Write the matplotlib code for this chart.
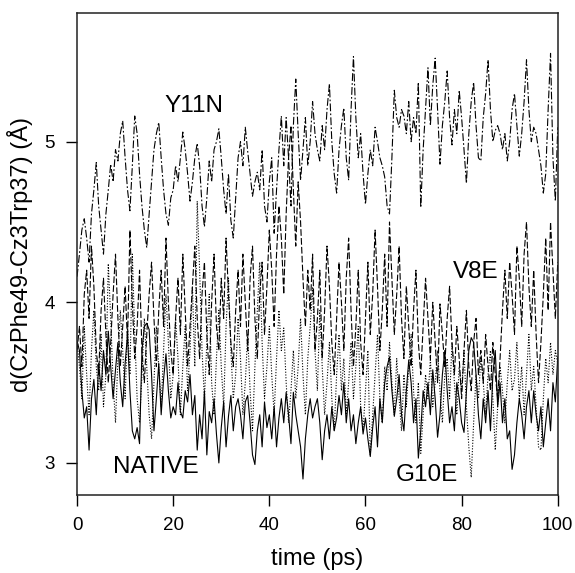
import numpy as np
import matplotlib
matplotlib.use('Agg')
import matplotlib.pyplot as plt

plt.rcParams['font.family'] = ['Liberation Sans', 'DejaVu Sans']

#%% DATA (0.5 ps sampling)
time = np.arange(0, 100.5, 0.5)

native = [3.76, 3.70, 3.45, 3.28, 3.35, 3.08, 3.40, 3.52, 3.30, 3.62,
          3.45, 3.70, 3.55, 3.82, 3.60, 3.40, 3.58, 3.75, 3.50, 3.35,
          3.62, 3.80, 3.45, 3.20, 3.15, 3.22, 3.12, 3.70, 3.85, 3.87,
          3.83, 3.55, 3.20, 3.40, 3.62, 3.30, 3.52, 3.68, 3.45, 3.28,
          3.35, 3.30, 3.50, 3.32, 3.28, 3.45, 3.38, 3.55, 3.30, 3.42,
          3.08, 3.30, 3.15, 3.45, 3.05, 3.32, 3.25, 3.40, 3.18, 3.00,
          3.22, 3.38, 3.10, 3.29, 3.42, 3.20, 3.35, 3.40, 3.30, 3.15,
          3.38, 3.42, 3.25, 3.05, 2.99, 3.20, 3.30, 3.10, 3.38, 3.22,
          3.30, 3.15, 3.35, 3.10, 3.28, 3.40, 3.25, 3.44, 3.30, 3.12,
          3.44, 3.30, 3.20, 3.10, 2.90, 3.15, 3.30, 3.40, 3.28, 3.35,
          3.40, 3.25, 3.02, 3.20, 3.30, 3.15, 3.35, 3.20, 3.28, 3.42,
          3.30, 3.50, 3.25, 3.40, 3.20, 3.30, 3.12, 3.25, 3.35, 3.18,
          3.28, 3.15, 3.04, 3.22, 3.35, 3.10, 3.40, 3.25, 3.50, 3.60,
          3.66, 3.45, 3.29, 3.40, 3.55, 3.30, 3.20, 3.45, 3.64, 3.50,
          3.25, 3.40, 3.03, 3.20, 3.45, 3.35, 3.50, 3.30, 3.58, 3.40,
          3.16, 3.30, 3.55, 3.70, 3.45, 3.25, 3.35, 3.20, 3.50, 3.40,
          3.25, 3.19, 3.45, 3.70, 3.78, 3.75, 3.55, 3.30, 3.15, 3.40,
          3.25, 3.45, 3.20, 3.55, 3.70, 3.35, 3.50, 3.25, 3.40, 3.15,
          3.20, 2.96, 3.05, 3.25, 3.40, 3.30, 3.15, 3.35, 3.45, 3.25,
          3.45, 3.30, 3.20, 3.35, 3.10, 3.25, 3.40, 3.20, 3.50, 3.38,
          3.66]

g10e = [3.75, 3.60, 3.40, 3.85, 3.55, 3.30, 3.70, 3.95, 3.60, 3.45,
        3.80, 3.35, 3.55, 4.24, 3.90, 3.50, 3.25, 3.65, 3.95, 3.70,
        3.40, 3.85, 3.55, 4.30, 3.80, 3.40, 3.25, 3.55, 3.90, 3.60,
        3.30, 3.15, 3.50, 3.85, 3.60, 3.35, 3.70, 4.05, 3.75, 3.40,
        3.55, 3.90, 3.65, 3.30, 3.60, 3.85, 3.45, 3.70, 4.10, 3.60,
        4.63, 4.20, 3.70, 3.40, 3.75, 4.05, 3.50, 3.30, 3.65, 3.95,
        3.60, 3.35, 3.85, 4.15, 3.70, 3.40, 3.55, 3.90, 3.65, 3.30,
        3.50, 3.80, 3.45, 3.20, 3.60, 3.95, 4.25, 3.75, 3.40, 3.60,
        3.85, 3.55, 3.30, 3.65, 3.95, 3.70, 3.84, 3.50, 3.25, 3.45,
        3.70, 3.40, 3.60, 3.90, 3.55, 3.30, 3.65, 3.85, 4.09, 3.70,
        3.45, 3.95, 3.60, 3.30, 3.50, 3.75, 3.40, 3.20, 3.55, 3.80,
        3.45, 3.65, 3.30, 3.50, 3.75, 3.40, 3.60, 3.85, 3.35, 3.20,
        3.45, 3.70, 3.05, 3.30, 3.55, 3.80, 3.40, 3.25, 3.60, 3.45,
        3.75, 3.50, 3.30, 3.65, 3.40, 3.20, 3.55, 3.35, 3.60, 3.80,
        3.45, 3.25, 3.50, 3.06, 3.30, 3.55, 3.40, 3.65, 3.35, 3.50,
        3.70, 3.45, 3.25, 3.55, 3.65, 3.40, 3.75, 3.50, 3.30, 3.60,
        3.45, 3.70, 3.35, 3.10, 2.91, 3.25, 3.55, 3.40, 3.65, 3.50,
        3.30, 3.55, 3.70, 3.40, 3.08, 3.35, 3.60, 3.45, 3.25, 3.50,
        3.70, 3.45, 3.52, 3.75, 3.40, 3.60, 3.30, 3.55, 3.80, 3.45,
        3.60, 3.35, 3.10, 3.08, 3.40, 3.65, 3.50, 3.75, 3.55, 3.70,
        3.62]

v8e = [3.70, 3.85, 3.60, 4.05, 4.20, 3.90, 4.35, 4.10, 3.70, 3.55,
       3.95, 4.15, 3.80, 3.50, 3.75, 4.05, 4.30, 3.90, 3.60, 3.85,
       4.10, 3.75, 4.45, 4.00, 3.65, 3.85, 4.20, 3.70, 3.50, 3.80,
       4.05, 4.25, 3.90, 3.60, 3.95, 4.20, 3.85, 4.40, 4.00, 3.70,
       3.55, 3.90, 4.15, 3.80, 4.30, 3.95, 3.60, 3.85, 4.10, 4.35,
       3.90, 3.65, 4.05, 4.25, 3.80, 3.55, 4.00, 4.30, 3.85, 3.70,
       4.15, 3.90, 4.40, 4.05, 3.75, 3.60, 3.95, 4.20, 3.85, 4.30,
       4.00, 3.70, 4.15, 4.35, 3.90, 3.65, 4.05, 4.25, 3.80, 4.10,
       4.45, 4.20, 3.85, 4.30, 4.60, 4.40, 4.05, 4.55, 4.90, 5.10,
       4.70, 4.35, 4.75, 4.50, 4.15, 3.85, 4.20, 3.95, 4.30, 3.70,
       3.90, 4.20, 3.65, 3.95, 4.35, 4.10, 3.75, 3.55, 3.90, 4.25,
       4.00, 3.70, 4.15, 4.40, 3.95, 3.60, 3.85, 4.20, 3.75, 3.55,
       3.90, 4.25, 3.80, 4.05, 4.45, 4.10, 3.70, 3.95, 4.30, 3.85,
       4.50, 4.15, 3.80, 4.05, 4.35, 3.90, 3.65, 4.10, 3.85, 3.60,
       3.95, 4.20, 3.75, 3.55, 3.85, 4.15, 3.90, 3.65, 4.00, 3.75,
       3.50, 3.99, 3.80, 3.60, 3.90, 4.10, 3.75, 3.55, 3.85, 3.65,
       3.40, 3.70, 3.95, 3.60, 3.45, 3.75, 3.90, 3.55, 3.70, 3.50,
       3.80, 3.60, 3.45, 3.75, 3.55, 3.40, 3.65, 3.95, 4.20, 3.90,
       4.25, 4.05, 3.80, 4.35, 4.15, 3.85, 4.30, 4.50, 4.10, 3.85,
       4.20, 3.80, 3.50, 3.75, 4.05, 4.40, 3.95, 4.50, 4.20, 3.90,
       4.25]

y11n = [4.16, 4.30, 4.45, 4.52, 4.40, 4.25, 4.55, 4.70, 4.87, 4.60,
        4.45, 4.30, 4.55, 4.70, 4.86, 4.75, 4.95, 4.88, 5.05, 5.13,
        4.90, 4.70, 4.57, 4.85, 5.16, 5.05, 4.80, 4.60, 4.45, 4.34,
        4.55, 4.75, 4.95, 5.05, 5.12, 4.90, 4.70, 4.55, 4.48, 4.65,
        4.70, 4.85, 4.75, 4.90, 5.06, 4.95, 4.80, 4.63, 4.75, 4.90,
        4.99, 4.85, 4.60, 4.47, 4.65, 4.88, 4.75, 4.95, 5.00, 5.08,
        4.90, 4.70, 4.55, 4.80, 4.51, 4.40, 4.65, 4.90, 5.00, 4.85,
        5.09, 4.94, 4.80, 4.66, 4.75, 4.81, 4.70, 4.95, 4.60, 4.50,
        4.75, 4.90, 4.43, 4.70, 4.95, 5.16, 4.85, 5.15, 4.90, 4.60,
        5.10, 5.39, 5.05, 4.76, 4.95, 5.15, 4.85, 5.00, 5.25, 5.05,
        4.95, 4.88, 5.10, 4.95, 5.20, 5.36, 5.00, 4.80, 4.68, 4.95,
        5.10, 5.21, 4.90, 4.76, 5.20, 5.53, 5.15, 4.90, 5.05, 4.80,
        4.61, 4.80, 4.95, 4.85, 5.09, 5.00, 4.90, 4.85, 4.78, 4.60,
        4.55, 4.90, 5.32, 5.15, 5.09, 5.20, 5.16, 5.05, 5.25, 5.00,
        5.15, 5.05, 5.37, 4.59, 4.95, 5.20, 5.46, 5.10, 5.35, 5.52,
        5.20, 4.86, 5.10, 5.25, 5.44, 5.15, 4.98, 5.20, 5.05, 5.32,
        5.15, 4.95, 4.74, 5.05, 5.25, 5.37, 5.10, 4.90, 4.88, 5.15,
        5.30, 5.51, 5.20, 5.00, 5.07, 5.10, 5.05, 4.95, 5.05, 4.88,
        5.00, 5.20, 5.30, 5.10, 4.91, 5.05, 5.25, 5.51, 5.20, 5.00,
        5.09, 5.05, 4.95, 4.85, 4.68, 4.80, 5.20, 5.55, 4.90, 4.63,
        5.09]

labels = ['NATIVE', 'G10E', 'V8E', 'Y11N']
label_pos = [(16.3, 2.975), (72.8, 2.925), (83.0, 4.19), (24.3, 5.22)]

#%% PLOT
fig = plt.figure(figsize=(5.75, 5.73), dpi=100)
ax = fig.add_axes([0.134, 0.136, 0.836, 0.841])

lw = 0.8
ax.plot(time, native, color='black', lw=lw, linestyle='-')
ax.plot(time, g10e, color='black', lw=lw, linestyle=(0, (1, 1.5)))
ax.plot(time, v8e, color='black', lw=lw, linestyle=(0, (6, 2)))
ax.plot(time, y11n, color='black', lw=lw, linestyle=(0, (7, 2, 1.5, 2)))

for lab, (xp, yp) in zip(labels, label_pos):
    ax.text(xp, yp, lab, fontsize=17.5, ha='center', va='center')

ax.set_xlim(0, 100)
ax.set_ylim(2.8, 5.8)
ax.set_xticks([0, 20, 40, 60, 80, 100])
ax.set_yticks([3, 4, 5])
ax.tick_params(direction='out', length=8, width=1.0, labelsize=13.5, pad=8)
for sp in ax.spines.values():
    sp.set_linewidth(1.1)
    sp.set_color('#222222')

ax.set_xlabel('time (ps)', fontsize=17, labelpad=10)
ax.set_ylabel('d(CzPhe49-Cz3Trp37) (Å)', fontsize=17, labelpad=8)

fig.savefig('out.png', dpi=100)
